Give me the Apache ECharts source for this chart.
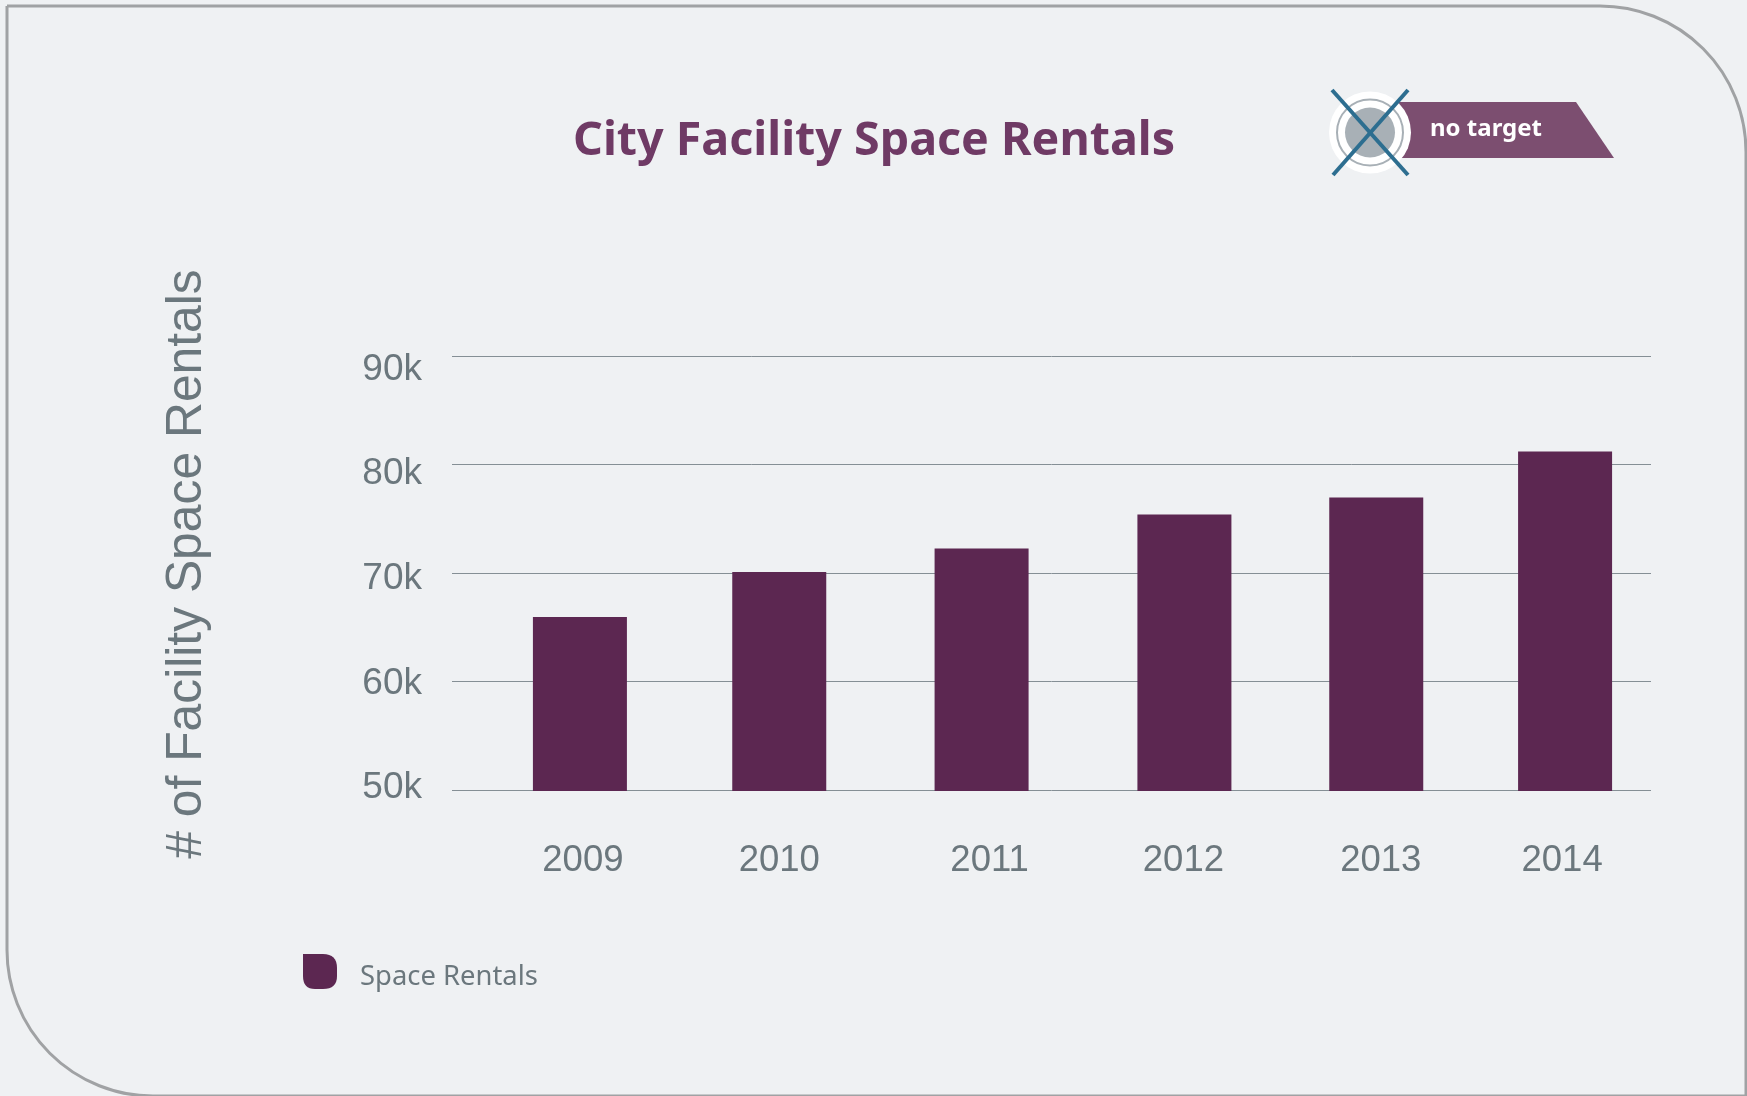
<!DOCTYPE html>
<html>
<head>
<meta charset="utf-8">
<title>City Facility Space Rentals</title>
<style>
    html, body { margin: 0; padding: 0; background: #eff1f3; }
    #main { width: 1747px; height: 1096px; }
</style>
<script src="https://cdn.jsdelivr.net/npm/echarts@6/dist/echarts.min.js"></script>
</head>
<body>
<div id="main"></div>
<script>
// data
var years = ['2009', '2010', '2011', '2012', '2013', '2014'];
var rentals = [65950, 70100, 72250, 75400, 76950, 81200];
var yTicks = [50000, 60000, 70000, 80000, 90000];
var seriesName = 'Space Rentals';

// the original is hand placed, so bars and labels sit off the even category centres (px)
var barShift = [28, 27.5, 30, 33, 25, 14];
var yearShift = [31, 27.5, 38, 32, 29.5, 11];
var tickShift = { 50000: -2, 60000: 2, 70000: 5.5, 80000: 9.5, 90000: 13.5 };

var textColor = '#6b777d';
var barColor = '#5c2751';
var sansFont = '"Liberation Sans", Arial, sans-serif';

var chart = echarts.init(document.getElementById('main'));

// x labels: left padding moves the centred text to the right
var yearRich = {};
years.forEach(function (y, i) {
    yearRich['y' + i] = { padding: [0, 0, 0, yearShift[i] * 2] };
});
// y labels: top or bottom padding moves the text down or up
var tickRich = {};
yTicks.forEach(function (t) {
    var s = tickShift[t];
    tickRich['t' + t] = { padding: s > 0 ? [s * 2, 0, 0, 0] : [0, 0, -s * 2, 0] };
});

chart.setOption({
    backgroundColor: '#eff1f3',
    animation: false,
    title: {
        text: 'City Facility Space Rentals',
        left: 568,
        top: 113,
        textStyle: { color: '#6f3a65', fontFamily: '"Noto Sans", sans-serif', fontWeight: 'bold', fontSize: 46.6 }
    },
    legend: {
        left: 298,
        top: 949,
        itemWidth: 34,
        itemHeight: 35,
        data: [{ name: seriesName, icon: 'path://M0 0H20Q34 0 34 14V22Q34 35 20 35H12Q0 35 0 22Z' }],
        formatter: function (name) { return '{a|' + name + '}'; },
        textStyle: {
            color: textColor,
            fontFamily: '"Noto Sans", sans-serif',
            fontSize: 27.4,
            rich: { a: { padding: [11, 0, 0, 18] } }
        }
    },
    grid: { left: 452, right: 96, top: 356, bottom: 306 },
    xAxis: {
        type: 'category',
        data: years,
        axisLine: { show: false },
        axisTick: { show: false },
        axisLabel: {
            interval: 0,
            margin: 52,
            color: textColor,
            fontFamily: sansFont,
            fontSize: 36.5,
            rich: yearRich,
            formatter: function (value, i) { return '{y' + i + '|' + value + '}'; }
        }
    },
    yAxis: {
        type: 'value',
        min: 50000,
        max: 90000,
        interval: 10000,
        name: '# of Facility Space Rentals',
        nameLocation: 'middle',
        nameRotate: 90,
        nameGap: 240,
        nameTextStyle: { color: textColor, fontFamily: sansFont, fontSize: 49.8, padding: [0, 0, 0, 18] },
        axisLine: { show: false },
        axisTick: { show: false },
        splitLine: { lineStyle: { color: '#858f95', width: 1 } },
        axisLabel: {
            margin: 30,
            color: textColor,
            fontFamily: sansFont,
            fontSize: 37,
            rich: tickRich,
            formatter: function (value) { return '{t' + value + '|' + (value / 1000) + 'k}'; }
        }
    },
    series: [{
        name: seriesName,
        type: 'custom',
        itemStyle: { color: barColor },
        encode: { x: 0, y: 1 },
        data: rentals.map(function (v, i) { return [i, v]; }),
        renderItem: function (params, api) {
            var i = api.value(0);
            var top = api.coord([i, api.value(1)]);
            var base = api.coord([i, 50000]);
            return {
                type: 'rect',
                shape: { x: top[0] + barShift[i] - 47, y: top[1], width: 94, height: base[1] - top[1] + 1 },
                style: { fill: barColor }
            };
        }
    }],
    graphic: [
        // panel outline
        { type: 'rect', z: -10, shape: { x: 7, y: 6, width: 1739, height: 1090, r: [0, 146, 0, 146] },
          style: { fill: '#eff1f3', stroke: '#a0a2a4', lineWidth: 3 } },
        // no target badge
        { type: 'polygon', z: 10, shape: { points: [[1390, 102], [1576, 102], [1614, 158], [1390, 158]] },
          style: { fill: '#7c4e70' } },
        { type: 'circle', z: 11, shape: { cx: 1370, cy: 132.5, r: 41 }, style: { fill: '#ffffff' } },
        { type: 'circle', z: 12, shape: { cx: 1370, cy: 132.5, r: 33 }, style: { fill: '#ffffff', stroke: '#a8b0b6', lineWidth: 2 } },
        { type: 'circle', z: 13, shape: { cx: 1370, cy: 132.5, r: 25 }, style: { fill: '#a8b0b6' } },
        { type: 'line', z: 14, shape: { x1: 1332, y1: 90, x2: 1408, y2: 175 }, style: { stroke: '#2d6e90', lineWidth: 4 } },
        { type: 'line', z: 14, shape: { x1: 1408, y1: 90, x2: 1333, y2: 175 }, style: { stroke: '#2d6e90', lineWidth: 4 } },
        { type: 'text', z: 15, x: 1430, y: 117, style: { text: 'no target', fill: '#ffffff', font: 'bold 24px "Noto Sans", sans-serif' } }
    ]
});
</script>
</body>
</html>
